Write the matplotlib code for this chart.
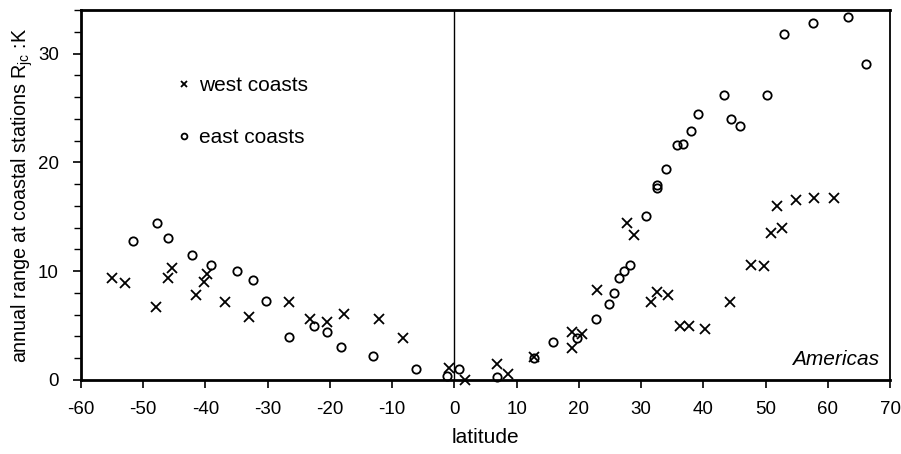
import matplotlib
matplotlib.use("Agg")
import matplotlib.pyplot as plt
from matplotlib.ticker import MultipleLocator

plt.rcParams['font.family'] = ['Liberation Sans', 'DejaVu Sans']
plt.rcParams['mathtext.fontset'] = 'custom'
plt.rcParams['mathtext.rm'] = 'Liberation Sans'
plt.rcParams['axes.unicode_minus'] = False

west_lat = [-55.0, -53.0, -48.0, -46.1, -45.4, -41.6, -40.2, -39.7, -36.9, -33.0,
            -26.5, -23.2, -20.4, -17.7, -12.1, -8.2, -0.8, 1.7, 6.9, 8.6,
            12.8, 18.9, 18.9, 20.5, 22.9, 27.8, 28.8, 31.6, 32.5, 34.4,
            36.3, 37.7, 40.3, 44.3, 47.7, 49.8, 50.8, 51.9, 52.7, 54.9,
            57.8, 61.0]
west_range = [9.4, 8.9, 6.7, 9.4, 10.3, 7.8, 9.0, 9.7, 7.2, 5.8,
              7.2, 5.6, 5.3, 6.1, 5.6, 3.9, 1.1, 0.0, 1.5, 0.55,
              2.15, 4.4, 2.95, 4.2, 8.3, 14.4, 13.3, 7.15, 8.1, 7.8,
              4.95, 4.95, 4.65, 7.15, 10.55, 10.5, 13.5, 16.0, 14.0, 16.5,
              16.7, 16.7]

east_lat = [-51.7, -47.8, -46.1, -42.1, -39.1, -34.9, -32.3, -30.2, -26.5, -22.5,
            -20.5, -18.2, -13.1, -6.2, -1.2, 0.8, 6.9, 12.8, 15.8, 19.7,
            22.8, 24.8, 25.7, 26.5, 27.3, 28.2, 30.8, 32.6, 32.6, 34.0,
            35.7, 36.7, 38.0, 39.1, 43.4, 44.5, 45.9, 50.3, 53.0, 57.7,
            63.3, 66.2]
east_range = [12.8, 14.45, 13.05, 11.5, 10.55, 10.05, 9.15, 7.25, 3.95, 5.0,
              4.45, 3.05, 2.25, 1.0, 0.4, 1.0, 0.3, 2.0, 3.5, 3.9,
              5.6, 7.0, 8.0, 9.4, 10.0, 10.6, 15.05, 17.9, 17.6, 19.4,
              21.6, 21.7, 22.85, 24.45, 26.15, 24.0, 23.3, 26.15, 31.75, 32.85,
              33.4, 29.0]

fig = plt.figure(figsize=(9.01, 4.54), dpi=100)
ax = fig.add_axes([0.0899, 0.163, 0.8979, 0.815])

ax.plot(west_lat, west_range, linestyle='none', marker='x', markersize=6.5,
        markeredgewidth=1.3, color='black', clip_on=False, label='west coasts')
ax.plot(east_lat, east_range, linestyle='none', marker='o', markersize=6,
        markeredgewidth=1.3, markerfacecolor='none', markeredgecolor='black',
        clip_on=False, label='east coasts')

ax.axvline(0, color='black', linewidth=1.0)

ax.set_xlim(-60, 70)
ax.set_ylim(0, 34)
ax.xaxis.set_major_locator(MultipleLocator(10))
ax.yaxis.set_major_locator(MultipleLocator(10))
ax.yaxis.set_minor_locator(MultipleLocator(2))
ax.tick_params(axis='both', which='major', direction='out', length=6, width=1.2,
               labelsize=13.5, colors='black')
ax.tick_params(axis='y', which='minor', direction='out', length=5, width=1.0)
ax.tick_params(axis='x', which='major', pad=9)
ax.tick_params(axis='y', which='major', pad=10)

for s in ax.spines.values():
    s.set_linewidth(1.3)
ax.spines['bottom'].set_linewidth(2.0)
ax.spines['left'].set_linewidth(2.0)
ax.spines['top'].set_linewidth(2.0)

ax.set_xlabel('latitude', fontsize=15, labelpad=7)
ax.set_ylabel('annual range at coastal stations R$_\\mathregular{jc}$ :K', fontsize=14.2, labelpad=2)

ax.text(0.986, 0.055, 'Americas', transform=ax.transAxes, ha='right', va='center',
        fontsize=15, style='italic')

leg = ax.legend(loc='upper left', bbox_to_anchor=(0.108, 0.85), frameon=False,
                fontsize=15, markerscale=0.7, handlelength=0.5, handletextpad=0.45,
                labelspacing=1.6, borderpad=0)

fig.savefig('out.png', dpi=100)
